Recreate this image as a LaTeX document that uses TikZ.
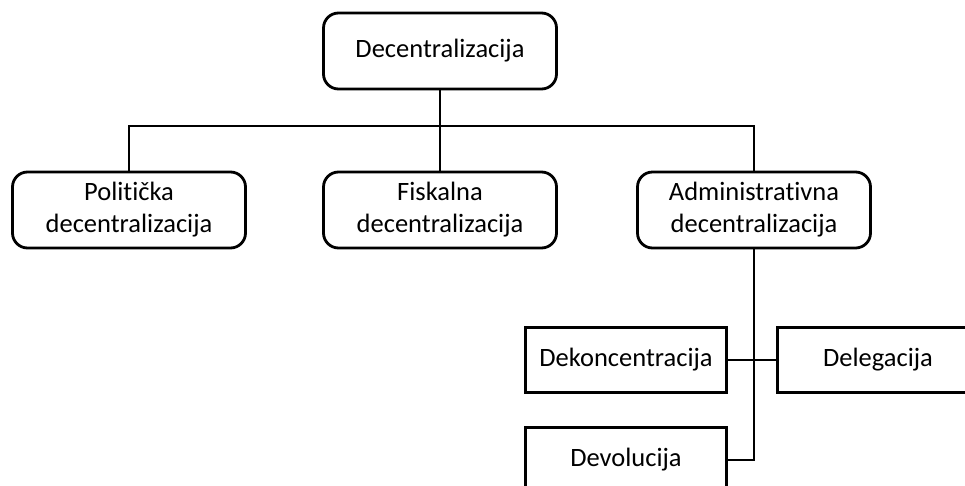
\documentclass[tikz,border=0pt]{standalone}
\usepackage{fontspec}
\setmainfont{Carlito}[Ligatures=NoCommon]
\newcommand{\ti}{t\kern0pt i}

\begin{document}
\begin{tikzpicture}[x=1pt,y=-1pt,line width=2.8pt,
    roundbox/.style={draw,rounded corners=15pt,minimum width=233pt,minimum height=76pt,align=center,font=\fontsize{26.5}{32}\selectfont},
    flatbox/.style={draw,minimum width=201pt,minimum height=65pt,font=\fontsize{26.5}{32}\selectfont}]
    \useasboundingbox(0,0)rectangle(965,485);

    \node[roundbox](dec)at(440,51){Decentralizacija};
    \node[roundbox](pol)at(129,210){Poli\ti čka\\decentralizacija};
    \node[roundbox](fis)at(440,210){Fiskalna\\decentralizacija};
    \node[roundbox](adm)at(754,210){Administra\ti vna\\decentralizacija};

    \node[flatbox](dek)at(626,360){Dekoncentracija};
    \node[flatbox](del)at(878,360){Delegacija};
    \node[flatbox](dev)at(626,460){Devolucija};

    \coordinate(bus)at(440,126);
    \draw(pol.north)|-(bus)-|(adm.north);
    \draw(dec.south)--(fis.north);
    \draw(adm.south)--(adm.south|-dev.east)--(dev.east);
    \draw(dek.east)--(del.west);
\end{tikzpicture}
\end{document}
